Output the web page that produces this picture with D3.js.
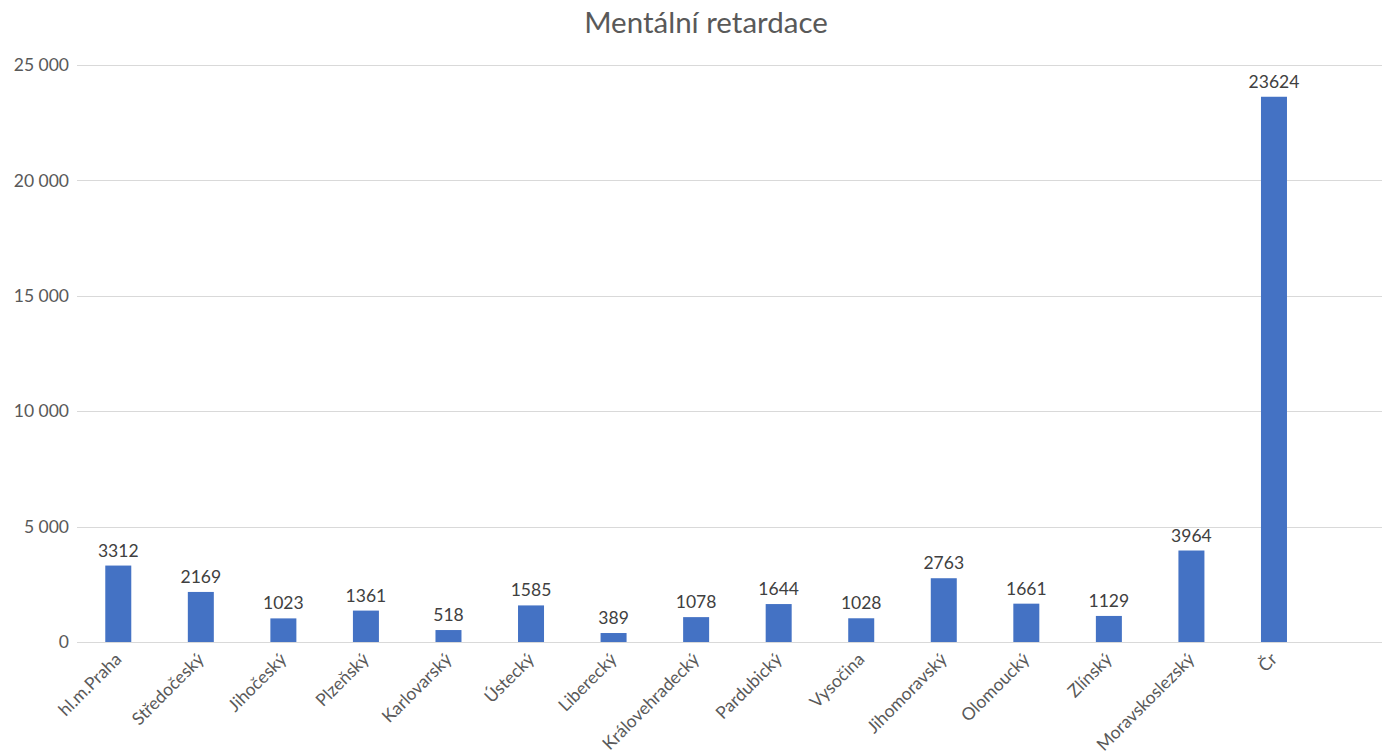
<!DOCTYPE html>
<html>
<head>
<meta charset="utf-8">
<script src="https://cdn.jsdelivr.net/npm/d3@7"></script>
<style>
  html, body { margin: 0; padding: 0; background: #fff; }
  svg { display: block; font-family: Lato, "Open Sans", sans-serif; }
</style>
</head>
<body>
<svg id="chart" width="1382" height="752"></svg>
<script>
// Regions of the Czech Republic and their counts
const categories = ["hl.m.Praha", "Středočeský", "Jihočeský", "Plzeňský", "Karlovarský", "Ústecký",
  "Liberecký", "Královehradecký", "Pardubický", "Vysočina", "Jihomoravský", "Olomoucký",
  "Zlínský", "Moravskoslezský", "Čr"];
const values = [3312, 2169, 1023, 1361, 518, 1585, 389, 1078, 1644, 1028, 2763, 1661, 1129, 3964, 23624];
const yTicks = [0, 5000, 10000, 15000, 20000, 25000];
const title = "Mentální retardace";

const W = 1382, H = 752;
const plotLeft = 77, step = 82.55, plotTop = 65, plotBottom = 642;
const barW = 26;

const svg = d3.select("#chart");

const x = d3.scaleBand()
  .domain(categories)
  .range([plotLeft, plotLeft + step * categories.length])
  .padding(0);

const y = d3.scaleLinear().domain([0, 25000]).range([plotBottom, plotTop]);

// Title
svg.append("text")
  .attr("x", 706).attr("y", 33)
  .attr("text-anchor", "middle")
  .attr("font-size", 29.5)
  .attr("fill", "#595959")
  .text(title);

// Gridlines
svg.append("g").selectAll("line").data(yTicks).join("line")
  .attr("x1", plotLeft).attr("x2", W)
  .attr("y1", d => Math.round(y(d)) + 0.5).attr("y2", d => Math.round(y(d)) + 0.5)
  .attr("stroke", "#d9d9d9").attr("stroke-width", 1);

// Y axis labels
const fmt = d => d3.format(",")(d).replace(/,/g, " ");
svg.append("g").selectAll("text").data(yTicks).join("text")
  .attr("x", 69).attr("y", d => y(d))
  .attr("dy", "0.35em")
  .attr("text-anchor", "end")
  .attr("font-size", 17.5)
  .attr("fill", "#595959")
  .text(fmt);

const cx = c => x(c) + x.bandwidth() / 2;

// Bars
svg.append("g").selectAll("rect").data(categories).join("rect")
  .attr("x", c => cx(c) - barW / 2)
  .attr("width", barW)
  .attr("y", (c, i) => y(values[i]))
  .attr("height", (c, i) => y(0) - y(values[i]))
  .attr("fill", "#4472C4");

// Value labels
svg.append("g").selectAll("text").data(categories).join("text")
  .attr("x", c => cx(c))
  .attr("y", (c, i) => y(values[i]) - 9)
  .attr("text-anchor", "middle")
  .attr("font-size", 17.5)
  .attr("fill", "#404040")
  .text((c, i) => values[i]);

// Category labels, rotated
svg.append("g").selectAll("text").data(categories).join("text")
  .attr("transform", c => `translate(${cx(c)},${plotBottom + 14}) rotate(-45)`)
  .attr("text-anchor", "end")
  .attr("dy", "0.35em")
  .attr("font-size", 17.5)
  .attr("fill", "#595959")
  .text(c => c);
</script>
</body>
</html>
